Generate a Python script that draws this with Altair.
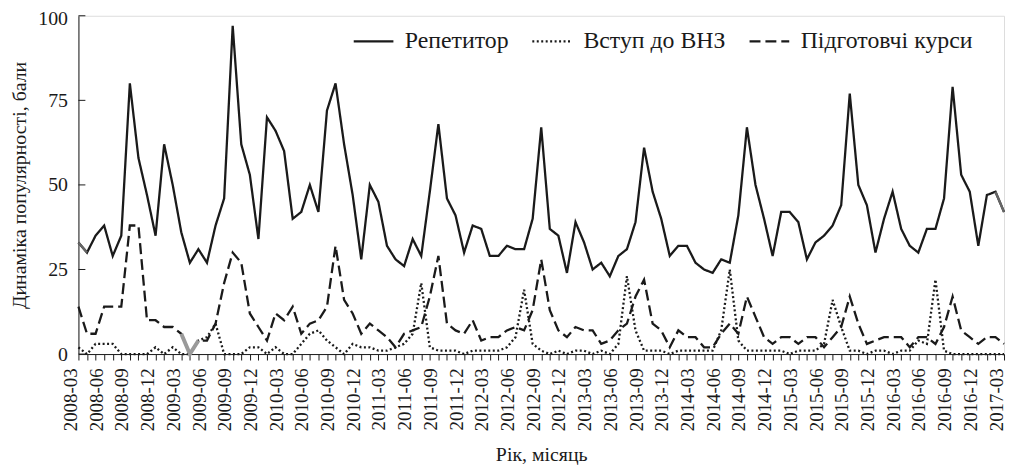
import altair as alt
import pandas as pd

months = [f"{2008 + (2 + i) // 12}-{(2 + i) % 12 + 1:02d}" for i in range(109)]

series_names = ["Репетитор", "Вступ до ВНЗ", "Підготовчі курси"]

repetytor = [33, 30, 35, 38, 29, 35, 80, 58, 47, 35,
             62, 50, 36, 27, 31, 27, 38, 46, 97, 62, 53, 34,
             70, 66, 60, 40, 42, 50, 42, 72, 80, 62, 47, 28,
             50, 45, 32, 28, 26, 34, 29, 48, 68, 46, 41, 30,
             38, 37, 29, 29, 32, 31, 31, 40, 67, 37, 35, 24,
             39, 33, 25, 27, 23, 29, 31, 39, 61, 48, 40, 29,
             32, 32, 27, 25, 24, 28, 27, 41, 67, 50, 40, 29,
             42, 42, 39, 28, 33, 35, 38, 44, 77, 50, 44, 30,
             40, 48, 37, 32, 30, 37, 37, 46, 79, 53, 48, 32,
             47, 48, 42]

vstup = [2, 0, 3, 3, 3, 0, 0, 0, 0, 2,
         0, 2, 0, 0, 4, 5, 9, 0, 0, 0, 2, 2,
         0, 2, 0, 0, 3, 6, 7, 4, 2, 0, 3, 2,
         2, 1, 1, 2, 3, 6, 21, 2, 1, 1, 1, 0,
         1, 1, 1, 1, 2, 5, 19, 3, 1, 0, 1, 0,
         1, 1, 0, 1, 0, 3, 23, 7, 1, 1, 1, 0,
         1, 1, 1, 1, 1, 7, 25, 4, 1, 1, 1, 1,
         1, 0, 1, 1, 1, 3, 16, 8, 1, 1, 0, 1,
         1, 0, 1, 1, 4, 3, 22, 1, 0, 0, 0, 0,
         0, 0, 0]

kursy = [14, 6, 6, 14, 14, 14, 38, 38, 10, 10,
         8, 8, 6, 0, 4, 4, 9, 21, 30, 27, 12, 8,
         4, 12, 10, 14, 6, 9, 10, 14, 32, 16, 12, 6,
         9, 7, 5, 2, 6, 7, 8, 17, 29, 9, 7, 6,
         10, 4, 5, 5, 7, 8, 7, 13, 28, 13, 7, 5,
         8, 7, 7, 3, 4, 7, 9, 17, 22, 9, 7, 2,
         7, 5, 5, 2, 2, 6, 9, 6, 17, 11, 5, 3,
         5, 5, 3, 5, 5, 2, 5, 8, 17, 9, 3, 4,
         5, 5, 5, 2, 5, 5, 3, 8, 17, 7, 5, 3,
         5, 5, 3]

y_ticks = [0, 25, 50, 75, 100]

rows = []
for name, vals in zip(series_names, [repetytor, vstup, kursy]):
    for i, (m, v) in enumerate(zip(months, vals)):
        rows.append({"month": m, "idx": i, "series": name, "value": v})
df = pd.DataFrame(rows)

FONT = "'Liberation Serif', 'Times New Roman', serif"
INK = "#1a1a1a"

x_enc = alt.X(
    "month:O", sort=months,
    scale=alt.Scale(type="point", padding=0),
    axis=alt.Axis(
        title="Рік, місяць", titleFontSize=20, titleFont=FONT, titleFontWeight="normal",
        titleColor=INK, titlePadding=14,
        labelAngle=270, labelFontSize=19, labelFont=FONT, labelColor=INK,
        labelExpr="toNumber(substring(datum.label, 5, 7)) % 3 == 0 ? datum.label : ''",
        labelOverlap=False, labelPadding=8, labelOffset=-8,
        tickSize=6, tickColor=INK, domainColor=INK, grid=False,
    ),
)
y_enc = alt.Y(
    "value:Q",
    scale=alt.Scale(domain=[0, 100], nice=False),
    axis=alt.Axis(
        title="Динаміка популярності, бали", titleFontSize=20, titleFont=FONT,
        titleFontWeight="normal", titleColor=INK, titlePadding=8,
        values=y_ticks, labelFontSize=20, labelFont=FONT, labelColor=INK,
        labelPadding=11, ticks=False, domainColor=INK, grid=False,
        labelOffset={"condition": {"test": "datum.value == 100", "value": 3}, "value": 0},
    ),
)

lines = alt.Chart(df).mark_line(strokeWidth=2.3, color=INK).encode(
    x=x_enc,
    y=y_enc,
    strokeDash=alt.StrokeDash(
        "series:N",
        scale=alt.Scale(domain=series_names, range=[[1, 0], [2, 2.5], [11, 5]]),
        legend=alt.Legend(
            title=None, orient="none", legendX=276, legendY=4, direction="horizontal",
            symbolType="stroke", symbolSize=1600, symbolStrokeWidth=2.4,
            symbolStrokeColor=INK, labelFont=FONT, labelFontSize=24, labelColor=INK,
            columnPadding=18, labelOffset=10, labelLimit=400,
        ),
    ),
    detail="series:N",
)

gray_rep = alt.Chart(df).transform_filter(
    "datum.series == 'Репетитор' && (datum.idx <= 1 || datum.idx >= 107)"
).transform_calculate(grp="datum.idx <= 1 ? 'a' : 'b'").mark_line(
    strokeWidth=2.3, color="#666666"
).encode(x=alt.X("month:O", sort=months), y="value:Q", detail="grp:N")

gray_kursy = alt.Chart(df).transform_filter(
    "datum.series == 'Підготовчі курси' && datum.idx >= 12 && datum.idx <= 14"
).mark_line(strokeWidth=4, color="#9a9a9a").encode(
    x=alt.X("month:O", sort=months), y="value:Q"
)

tick_df = pd.DataFrame({"value": y_ticks})
yticks = alt.Chart(tick_df).mark_rule(color=INK, strokeWidth=1).encode(
    x=alt.value(0), x2=alt.value(7), y="value:Q"
)

chart = alt.layer(lines, gray_rep, gray_kursy, yticks).properties(
    width=933, height=341,
    autosize=alt.AutoSizeParams(type="none"),
    padding={"left": 71, "top": 6, "right": 3, "bottom": 111},
).configure_view(stroke=INK, strokeWidth=1.2).configure(background="white")

chart.save("out.html", embed_options={"renderer": "svg", "actions": False})
